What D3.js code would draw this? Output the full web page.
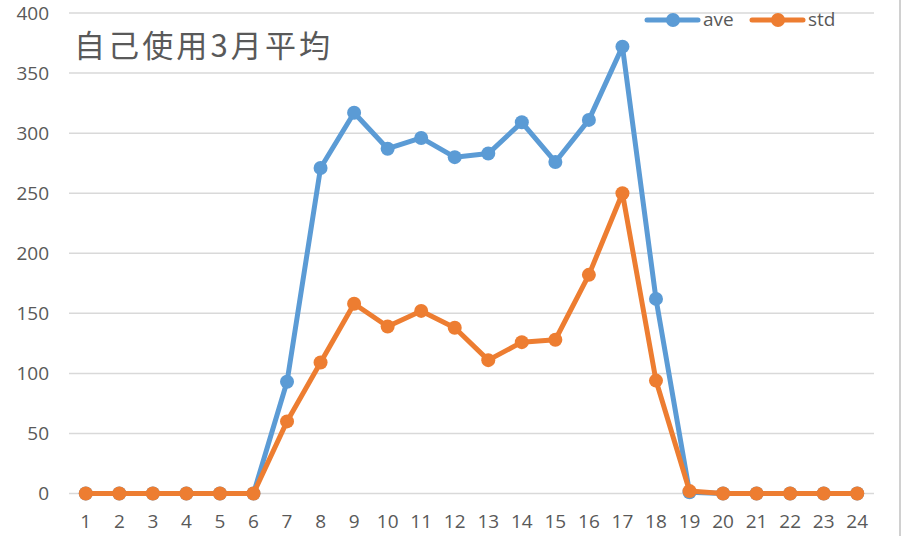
<!DOCTYPE html>
<html>
<head>
<meta charset="utf-8">
<script src="https://cdn.jsdelivr.net/npm/d3@7"></script>
<style>
  body { margin: 0; background: #fff; }
  text { font-family: "Open Sans", "Noto Sans", sans-serif; fill: #595959; }
</style>
</head>
<body>
<div class="svg-container"></div>
<script>
// hours on x axis
const hours = d3.range(1, 25).map(String);
const aveValues = [0, 0, 0, 0, 0, 0, 93, 271, 317, 287, 296, 280, 283, 309, 276, 311, 372, 162, 1, 0, 0, 0, 0, 0];
const stdValues = [0, 0, 0, 0, 0, 0, 60, 109, 158, 139, 152, 138, 111, 126, 128, 182, 250, 94, 2, 0, 0, 0, 0, 0];
const yTicks = [0, 50, 100, 150, 200, 250, 300, 350, 400];
const seriesNames = ['ave', 'std'];
const title = '自己使用3月平均';

const width = 902;
const height = 536;
const plot = { left: 69, right: 874, top: 13, bottom: 493.5 };
const colors = { ave: '#5B9BD5', std: '#ED7D31' };

const svg = d3.select('.svg-container')
    .append('svg')
    .attr('width', width)
    .attr('height', height);

// right border of the chart area
svg.append('line')
    .attr('x1', 900).attr('x2', 900)
    .attr('y1', 0).attr('y2', height)
    .attr('stroke', '#d0d0d0')
    .attr('stroke-width', 2);

const x = d3.scaleBand().domain(hours).range([plot.left, plot.right]);
const y = d3.scaleLinear().domain([0, 400]).range([plot.bottom, plot.top]);
const cx = (h) => x(h) + x.bandwidth() / 2;

// gridlines
svg.append('g')
    .selectAll('line')
    .data(yTicks)
    .enter()
    .append('line')
    .attr('x1', plot.left)
    .attr('x2', plot.right)
    .attr('y1', (d) => y(d))
    .attr('y2', (d) => y(d))
    .attr('stroke', '#d9d9d9')
    .attr('stroke-width', 1.5);

// y axis labels
const yAxis = svg.append('g')
    .attr('transform', `translate(${plot.left - 20},0)`)
    .call(d3.axisLeft(y).tickValues(yTicks).tickSize(0).tickPadding(0));
yAxis.select('.domain').remove();
yAxis.selectAll('text')
    .style('font-size', '19px')
    .style('font-family', '"Open Sans", sans-serif')
    .attr('fill', '#595959');

// x axis labels
const xAxis = svg.append('g')
    .attr('transform', `translate(0,${plot.bottom + 21})`)
    .call(d3.axisBottom(x).tickSize(0).tickPadding(0));
xAxis.select('.domain').remove();
xAxis.selectAll('text')
    .style('font-size', '19px')
    .style('font-family', '"Open Sans", sans-serif')
    .attr('fill', '#595959');

// lines and markers
const series = [
    { name: 'ave', values: aveValues },
    { name: 'std', values: stdValues },
];
const line = d3.line()
    .x((d, i) => cx(hours[i]))
    .y((d) => y(d));

series.forEach((s) => {
    const g = svg.append('g');
    g.append('path')
        .datum(s.values)
        .attr('d', line)
        .attr('fill', 'none')
        .attr('stroke', colors[s.name])
        .attr('stroke-width', 5)
        .attr('stroke-linejoin', 'round');
    g.selectAll('circle')
        .data(s.values)
        .enter()
        .append('circle')
        .attr('cx', (d, i) => cx(hours[i]))
        .attr('cy', (d) => y(d))
        .attr('r', 7)
        .attr('fill', colors[s.name]);
});

// legend
const legend = svg.append('g').attr('transform', 'translate(647,20)');
seriesNames.forEach((name, i) => {
    const lg = legend.append('g').attr('transform', `translate(${i * 105},0)`);
    lg.append('line')
        .attr('x1', 0).attr('x2', 51)
        .attr('y1', 0).attr('y2', 0)
        .attr('stroke', colors[name])
        .attr('stroke-width', 5)
        .attr('stroke-linecap', 'round');
    lg.append('circle')
        .attr('cx', 26).attr('cy', 0).attr('r', 7)
        .attr('fill', colors[name]);
    lg.append('text')
        .attr('x', 56).attr('y', 6)
        .style('font-size', '19px')
        .text(name);
});

// title
svg.append('text')
    .attr('x', 74)
    .attr('y', 57)
    .attr('textLength', 256)
    .attr('lengthAdjust', 'spacing')
    .style('font-family', '"Noto Sans CJK TC", "Noto Sans CJK SC", sans-serif')
    .style('font-size', '31px')
    .text(title);
</script>
</body>
</html>
